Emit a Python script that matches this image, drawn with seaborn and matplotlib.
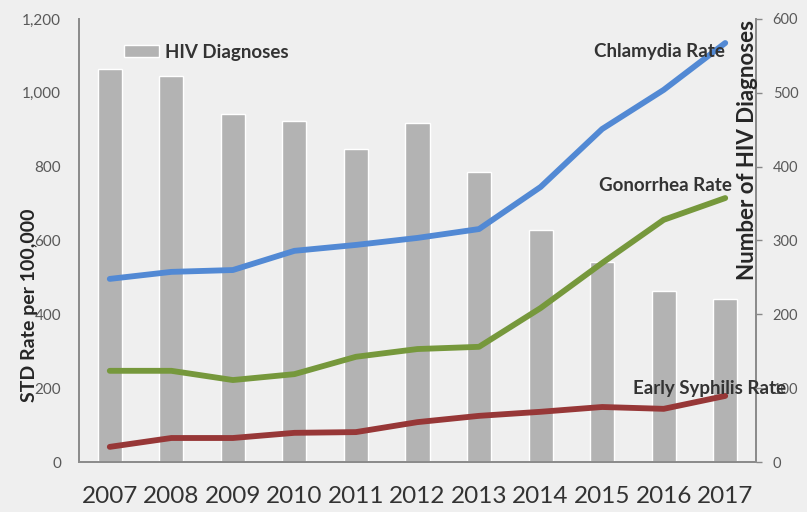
import matplotlib
matplotlib.use("Agg")
import matplotlib.pyplot as plt
import seaborn as sns
import pandas as pd

years = ["2007", "2008", "2009", "2010", "2011", "2012", "2013", "2014", "2015", "2016", "2017"]
hiv_diagnoses = [532, 523, 471, 462, 424, 459, 393, 314, 271, 232, 221]
chlamydia_rate = [496, 515, 520, 572, 588, 607, 631, 745, 902, 1008, 1135]
gonorrhea_rate = [247, 247, 222, 238, 285, 306, 312, 417, 539, 656, 715]
syphilis_rate = [41, 65, 65, 79, 81, 108, 125, 136, 149, 144, 179]
left_ticks = [0, 200, 400, 600, 800, 1000, 1200]
right_ticks = [0, 100, 200, 300, 400, 500, 600]

sns.set_theme(style="white")
plt.rcParams["font.family"] = ["Lato", "DejaVu Sans"]

bg = "#efefef"
fig = plt.figure(figsize=(8.07, 5.12), dpi=100, facecolor=bg)
ax = fig.add_axes([79/807, 50/512, 677/807, 443/512])
ax2 = ax.twinx()

df_bar = pd.DataFrame({"year": years, "hiv": hiv_diagnoses})
sns.barplot(data=df_bar, x="year", y="hiv", ax=ax2, color="#b3b3b3",
            saturation=1, width=0.39, label="HIV Diagnoses")

series = [(chlamydia_rate, "#5289d4"), (gonorrhea_rate, "#76983c"), (syphilis_rate, "#973737")]
for vals, col in series:
    d = pd.DataFrame({"year": years, "rate": vals})
    sns.lineplot(data=d, x="year", y="rate", ax=ax, color=col, linewidth=4.2,
                 solid_capstyle="round")

ax.set_zorder(ax2.get_zorder() + 1)
ax.patch.set_visible(False)
ax2.set_facecolor(bg)

ax.set_xlim(-0.5, 10.5)
ax.set_ylim(0, 1200)
ax2.set_ylim(0, 600)
ax.set_yticks(left_ticks)
ax.set_yticklabels([f"{v:,}" for v in left_ticks])
ax2.set_yticks(right_ticks)
ax2.set_yticklabels([str(v) for v in right_ticks])

ax.tick_params(axis="y", length=0, pad=13, labelsize=11, labelcolor="#595959")
ax2.tick_params(axis="y", length=4, width=1, color="#888888", pad=8,
                labelsize=10.5, labelcolor="#595959", right=True)
ax.tick_params(axis="x", length=0, pad=17, labelsize=17.5, labelcolor="#333333")
ax2.tick_params(axis="x", length=0)

for a in (ax, ax2):
    a.set_xlabel("")
    a.set_ylabel("")
    a.spines["top"].set_visible(False)
    for s in ("left", "right", "bottom"):
        a.spines[s].set_color("#8c8c8c")
        a.spines[s].set_linewidth(1.3)

fig.text(30/807, 1 - 305/512, "STD Rate per 100,000", rotation=90, fontsize=14,
         fontweight="bold", color="#262626", ha="center", va="center", zorder=10)
fig.text(747/807, 1 - 150/512, "Number of HIV Diagnoses", rotation=90, fontsize=16,
         fontweight="bold", color="#262626", ha="center", va="center", zorder=10)

ax.text(10.0, 1111, "Chlamydia Rate", ha="right", va="center", fontsize=13.5,
        fontweight="bold", color="#333333", clip_on=False, zorder=10)
ax.text(10.1, 750, "Gonorrhea Rate", ha="right", va="center", fontsize=13.5,
        fontweight="bold", color="#333333", clip_on=False)
ax.text(10.99, 200, "Early Syphilis Rate", ha="right", va="center", fontsize=13.5,
        fontweight="bold", color="#333333", clip_on=False, zorder=10)

leg = ax2.legend(loc="center left", bbox_to_anchor=(0.066, 0.925), frameon=False,
                 borderaxespad=0, borderpad=0, handlelength=1.9, handleheight=0.6,
                 handletextpad=0.3, prop={"weight": "bold", "size": 13.5})
for t in leg.get_texts():
    t.set_color("#333333")
if ax.get_legend() is not None:
    ax.get_legend().remove()

fig.savefig("out.png", dpi=100, facecolor=bg)
